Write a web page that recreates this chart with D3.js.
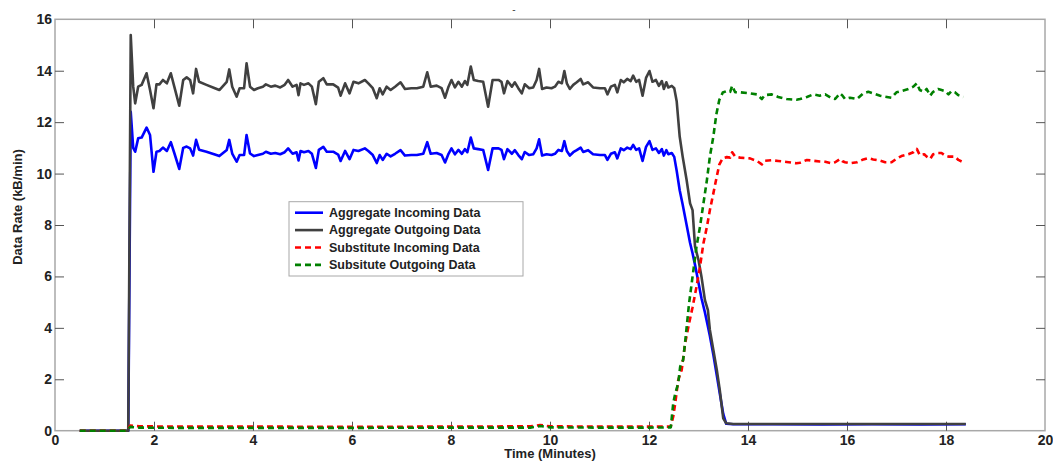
<!DOCTYPE html>
<html>
<head>
<meta charset="utf-8">
<script src="https://cdn.jsdelivr.net/npm/d3@7"></script>
<style>
  html, body { margin: 0; padding: 0; background: #fff; }
  svg { display: block; font-family: "Liberation Sans", Arial, sans-serif; }
</style>
</head>
<body>
<svg id="chart" width="1053" height="461"></svg>
<script>
// Aggregate traffic (minutes, kB/min)
const aggTime = [0.50, 1.48, 1.53, 1.58, 1.62, 1.68, 1.75, 1.85, 1.92, 1.99,
  2.05, 2.11, 2.18, 2.26, 2.34, 2.41, 2.51, 2.59, 2.66, 2.73, 2.79, 2.85, 2.91,
  3.06, 3.23, 3.32, 3.47, 3.52, 3.58, 3.67, 3.73, 3.82, 3.87, 3.94,
  4.02, 4.10, 4.20, 4.26, 4.36, 4.45, 4.55, 4.64, 4.71, 4.80, 4.88, 4.92, 4.96,
  5.03, 5.12, 5.19, 5.27, 5.33, 5.42, 5.49, 5.62, 5.72, 5.77, 5.86, 5.95,
  6.03, 6.13, 6.26, 6.33, 6.42, 6.50, 6.56, 6.62, 6.70, 6.78, 6.87, 6.98,
  7.07, 7.20, 7.31, 7.44, 7.52, 7.59, 7.71, 7.81, 7.88, 7.95,
  8.01, 8.08, 8.15, 8.22, 8.28, 8.33, 8.40, 8.46, 8.55, 8.65, 8.75, 8.84, 8.96,
  9.02, 9.07, 9.14, 9.23, 9.29, 9.36, 9.43, 9.49, 9.58, 9.66, 9.73, 9.78, 9.84, 9.93,
  10.03, 10.10, 10.17, 10.24, 10.29, 10.34, 10.40, 10.47, 10.54, 10.62, 10.67, 10.77, 10.87,
  11.01, 11.11, 11.16, 11.23, 11.31, 11.36, 11.43, 11.49, 11.56, 11.63, 11.68, 11.74, 11.80, 11.87, 11.94,
  12.01, 12.07, 12.14, 12.20, 12.26, 12.30, 12.35, 12.39, 12.46, 12.51,
  12.56, 12.62, 12.68, 12.76, 12.83, 12.88, 12.93, 13.00, 13.06, 13.13, 13.19, 13.23,
  13.30, 13.37, 13.43, 13.50, 13.56, 13.70, 14.50, 15.50, 16.50, 17.50, 18.40];

const aggIncoming = [0, 0, 12.40, 11.00, 10.85, 11.37, 11.40, 11.79, 11.50, 10.07,
  10.85, 10.88, 11.01, 10.88, 11.22, 10.80, 10.18, 11.00, 11.05, 10.98, 10.70, 11.31, 10.93,
  10.85, 10.74, 10.68, 10.92, 11.31, 10.78, 10.46, 10.72, 10.72, 11.50, 10.78,
  10.68, 10.72, 10.77, 10.85, 10.77, 10.80, 10.75, 10.83, 10.98, 10.77, 10.83, 10.51, 10.88,
  10.83, 10.88, 10.77, 10.22, 10.92, 11.04, 10.85, 10.85, 10.74, 10.49, 10.88, 10.56,
  10.92, 10.88, 10.98, 10.88, 10.72, 10.41, 10.72, 10.53, 10.77, 10.67, 10.77, 10.91,
  10.70, 10.72, 10.72, 10.77, 11.22, 10.77, 10.80, 10.72, 10.43, 10.77,
  10.98, 10.75, 10.92, 10.77, 10.95, 10.83, 11.40, 10.98, 10.95, 10.92, 10.14, 10.98, 10.98,
  10.92, 10.56, 10.95, 10.77, 10.91, 10.72, 10.56, 10.84, 10.72, 10.75, 10.98, 11.33, 10.70, 10.75,
  10.72, 10.77, 10.92, 10.88, 11.26, 10.88, 10.70, 10.83, 10.91, 11.01, 10.84, 10.91, 10.75,
  10.72, 10.72, 10.53, 10.77, 10.83, 10.59, 10.98, 10.91, 11.01, 10.95, 11.12, 10.92, 10.98, 10.49, 11.04,
  11.26, 10.92, 10.98, 10.80, 10.95, 10.70, 10.91, 10.75, 10.80, 10.65,
  10.10, 9.35, 8.80, 8.00, 7.30, 6.90, 6.45, 5.75, 5.15, 4.60, 4.05, 3.68,
  2.95, 2.15, 1.45, 0.65, 0.27, 0.25, 0.25, 0.24, 0.25, 0.24, 0.25];

const aggOutgoing = [0, 0, 15.39, 13.38, 12.73, 13.38, 13.45, 13.90, 13.25, 12.54,
  13.47, 13.47, 13.64, 13.51, 13.90, 13.38, 12.64, 13.64, 13.74, 13.64, 13.12, 14.07, 13.57,
  13.45, 13.32, 13.25, 13.57, 14.05, 13.38, 12.99, 13.32, 13.32, 14.29, 13.38,
  13.25, 13.32, 13.38, 13.47, 13.38, 13.42, 13.35, 13.45, 13.64, 13.38, 13.45, 13.05, 13.51,
  13.45, 13.51, 13.38, 12.70, 13.57, 13.71, 13.47, 13.47, 13.34, 13.03, 13.51, 13.12,
  13.57, 13.51, 13.64, 13.51, 13.32, 12.93, 13.32, 13.08, 13.38, 13.25, 13.38, 13.55,
  13.29, 13.32, 13.32, 13.38, 13.94, 13.38, 13.42, 13.32, 12.95, 13.38,
  13.64, 13.35, 13.57, 13.38, 13.60, 13.45, 14.16, 13.64, 13.60, 13.57, 12.60, 13.64, 13.64,
  13.57, 13.12, 13.60, 13.38, 13.55, 13.32, 13.12, 13.47, 13.32, 13.35, 13.64, 14.07, 13.29, 13.35,
  13.32, 13.38, 13.57, 13.51, 13.99, 13.51, 13.29, 13.45, 13.55, 13.68, 13.47, 13.55, 13.35,
  13.32, 13.32, 13.08, 13.38, 13.45, 13.16, 13.64, 13.55, 13.68, 13.60, 13.81, 13.57, 13.64, 13.03, 13.72,
  13.99, 13.57, 13.64, 13.41, 13.60, 13.29, 13.55, 13.35, 13.41, 13.32,
  12.80, 11.44, 10.66, 9.75, 8.84, 8.58, 7.16, 6.64, 5.99, 5.08, 4.69, 3.92,
  3.14, 2.36, 1.58, 0.48, 0.29, 0.26, 0.26, 0.26, 0.26, 0.26, 0.26];

// Substitute traffic (minutes, kB/min)
const subTime = [0.50, 1.45, 1.52, 1.70, 2.50, 4.00, 6.00, 8.00, 9.60, 9.80, 10.00, 11.00, 12.00, 12.44,
  12.49, 12.53, 12.59, 12.63, 12.66, 12.69, 12.73, 12.81, 12.88, 12.96, 13.03, 13.10, 13.17, 13.23,
  13.30, 13.36, 13.42, 13.49, 13.57, 13.64, 13.68, 13.74, 13.84, 14.04, 14.18, 14.28, 14.34, 14.48,
  14.61, 14.78, 14.98, 15.05, 15.19, 15.32, 15.45, 15.56, 15.69, 15.76, 15.86, 15.91, 15.96,
  16.06, 16.20, 16.33, 16.43, 16.53, 16.67, 16.77, 16.90, 17.00, 17.10, 17.24, 17.34, 17.41,
  17.47, 17.56, 17.61, 17.68, 17.74, 17.84, 17.91, 17.98, 18.05, 18.11, 18.18, 18.25, 18.35];

const subIncoming = [0, 0, 0.20, 0.17, 0.16, 0.16, 0.15, 0.16, 0.17, 0.22, 0.17, 0.16, 0.16, 0.16,
  0.55, 1.07, 1.97, 2.20, 2.36, 2.80, 3.40, 4.18, 4.80, 5.60, 6.38, 7.29, 7.93, 8.58,
  9.23, 9.80, 10.35, 10.60, 10.64, 10.62, 10.83, 10.66, 10.62, 10.59, 10.49, 10.36, 10.50, 10.52,
  10.49, 10.45, 10.40, 10.42, 10.53, 10.50, 10.47, 10.46, 10.40, 10.44, 10.57, 10.48, 10.44,
  10.40, 10.44, 10.55, 10.60, 10.55, 10.50, 10.44, 10.44, 10.58, 10.68, 10.75, 10.83, 10.96,
  10.72, 10.75, 10.66, 10.57, 10.75, 10.80, 10.80, 10.70, 10.66, 10.66, 10.66, 10.53, 10.44];

const subOutgoing = [0, 0, 0.15, 0.12, 0.11, 0.11, 0.11, 0.12, 0.12, 0.18, 0.13, 0.12, 0.12, 0.13,
  1.07, 1.45, 1.84, 2.49, 2.65, 2.75, 3.45, 4.96, 5.99, 7.16, 7.93, 8.84, 9.75, 10.66,
  11.44, 12.30, 12.86, 13.15, 13.21, 13.18, 13.42, 13.16, 13.16, 13.12, 13.08, 12.90, 13.05, 13.08,
  12.98, 12.90, 12.87, 12.90, 12.98, 13.08, 13.03, 13.08, 12.93, 12.90, 13.12, 13.03, 12.90,
  12.95, 12.90, 13.12, 13.18, 13.12, 13.03, 12.99, 12.95, 13.16, 13.21, 13.29, 13.38, 13.51,
  13.25, 13.18, 13.29, 13.03, 13.18, 13.29, 13.25, 13.21, 13.08, 13.21, 13.16, 13.05, 12.98];

const xTicks = [0, 2, 4, 6, 8, 10, 12, 14, 16, 18, 20];
const yTicks = [0, 2, 4, 6, 8, 10, 12, 14, 16];
const seriesNames = ["Aggregate Incoming Data", "Aggregate Outgoing Data",
  "Substitute Incoming Data", "Subsitute Outgoing Data"];

const svg = d3.select("#chart");
const plot = { left: 55, right: 1045, top: 19.3, bottom: 430.7 };

const x = d3.scaleLinear().domain([0, 20]).range([plot.left, plot.right]);
const y = d3.scaleLinear().domain([0, 16]).range([plot.bottom, plot.top]);

const series = [
  { name: seriesNames[0], t: aggTime, v: aggIncoming, color: "#0000ff", dash: null },
  { name: seriesNames[1], t: aggTime, v: aggOutgoing, color: "#404040", dash: null },
  { name: seriesNames[2], t: subTime, v: subIncoming, color: "#ff0000", dash: "6,4" },
  { name: seriesNames[3], t: subTime, v: subOutgoing, color: "#008000", dash: "6,4" }
];

// plot frame
svg.append("rect")
  .attr("x", plot.left).attr("y", plot.top)
  .attr("width", plot.right - plot.left).attr("height", plot.bottom - plot.top)
  .attr("fill", "none").attr("stroke", "#a8a8a8").attr("stroke-width", 1.5);

const tickLen = 9;
const tickColor = "#555";
const labelStyle = sel => sel.attr("font-size", 14).attr("font-weight", "bold").attr("fill", "#222");

// bottom axis: ticks inside, plus mirrored ticks on top edge
const xAxis = d3.axisBottom(x).tickValues(xTicks).tickSizeInner(-tickLen).tickSizeOuter(0);
const gx = svg.append("g").attr("transform", `translate(0,${plot.bottom})`).call(xAxis);
gx.select(".domain").remove();
gx.selectAll(".tick line").attr("stroke", tickColor);
gx.selectAll(".tick text").call(labelStyle).attr("dy", "0.71em").attr("y", 4.5);

const xTop = d3.axisTop(x).tickValues(xTicks).tickSizeInner(-tickLen).tickSizeOuter(0).tickFormat("");
const gxt = svg.append("g").attr("transform", `translate(0,${plot.top})`).call(xTop);
gxt.select(".domain").remove();
gxt.selectAll(".tick line").attr("stroke", tickColor);

// left axis with mirrored ticks on the right edge
const yAxis = d3.axisLeft(y).tickValues(yTicks).tickSizeInner(-tickLen).tickSizeOuter(0);
const gy = svg.append("g").attr("transform", `translate(${plot.left},0)`).call(yAxis);
gy.select(".domain").remove();
gy.selectAll(".tick line").attr("stroke", tickColor);
gy.selectAll(".tick text").call(labelStyle).attr("x", -3);

const yRight = d3.axisRight(y).tickValues(yTicks).tickSizeInner(-tickLen).tickSizeOuter(0).tickFormat("");
const gyr = svg.append("g").attr("transform", `translate(${plot.right},0)`).call(yRight);
gyr.select(".domain").remove();
gyr.selectAll(".tick line").attr("stroke", tickColor);

// hide end ticks that sit on the frame corners
gx.selectAll(".tick").filter(d => d === 0 || d === 20).select("line").remove();
gxt.selectAll(".tick").filter(d => d === 0 || d === 20).remove();
gy.selectAll(".tick").filter(d => d === 0 || d === 16).select("line").remove();
gyr.selectAll(".tick").filter(d => d === 0 || d === 16).remove();

// axis titles
svg.append("text")
  .attr("x", (plot.left + plot.right) / 2).attr("y", 458.3)
  .attr("text-anchor", "middle").attr("font-size", 13).attr("font-weight", "bold").attr("fill", "#222")
  .text("Time (Minutes)");

svg.append("text")
  .attr("transform", "translate(22,207) rotate(-90)")
  .attr("text-anchor", "middle").attr("font-size", 13).attr("font-weight", "bold").attr("fill", "#222")
  .text("Data Rate (kB/min)");

svg.append("text")
  .attr("x", 514).attr("y", 13)
  .attr("text-anchor", "middle").attr("font-size", 10).attr("fill", "#444")
  .text("-");

// data lines
const line = d3.line().x(d => x(d[0])).y(d => y(d[1]));
series.forEach(s => {
  svg.append("path")
    .datum(s.t.map((t, i) => [t, s.v[i]]))
    .attr("d", line)
    .attr("fill", "none")
    .attr("stroke", s.color)
    .attr("stroke-width", 2.6)
    .attr("stroke-linejoin", "round")
    .attr("stroke-dasharray", s.dash);
});

// legend
const lg = svg.append("g").attr("transform", "translate(289,201.7)");
lg.append("rect").attr("width", 234).attr("height", 74.3)
  .attr("fill", "#fff").attr("stroke", "#a8a8a8").attr("stroke-width", 1);
series.forEach((s, i) => {
  const cy = 11 + i * 17.4;
  lg.append("line").attr("x1", 6).attr("x2", 34).attr("y1", cy).attr("y2", cy)
    .attr("stroke", s.color).attr("stroke-width", 2.6).attr("stroke-dasharray", s.dash);
  lg.append("text").attr("x", 40).attr("y", cy).attr("dy", "0.35em")
    .attr("font-size", 12.5).attr("font-weight", "bold").attr("fill", "#222")
    .text(s.name);
});
</script>
</body>
</html>
